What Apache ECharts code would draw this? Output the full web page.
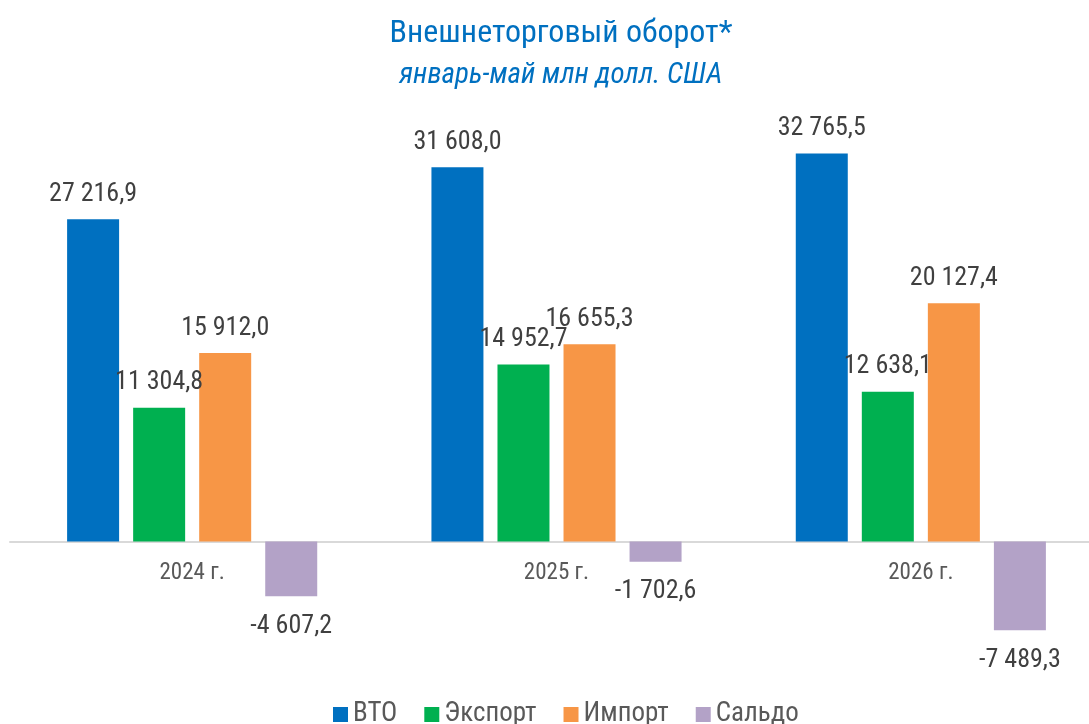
<!DOCTYPE html>
<html>
<head>
<meta charset="utf-8">
<script src="https://cdn.jsdelivr.net/npm/echarts@6/dist/echarts.min.js"></script>
<style>
	html, body { margin: 0; padding: 0; background: #fff; }
	#chart { width: 1089px; height: 724px; }
</style>
</head>
<body>
<div id="chart"></div>
<script>
const years = ["2024 г.", "2025 г.", "2026 г."]
const seriesNames = ["ВТО", "Экспорт", "Импорт", "Сальдо"]
const vto = [27216.9, 31608.0, 32765.5]
const exportVals = [11304.8, 14952.7, 12638.1]
const importVals = [15912.0, 16655.3, 20127.4]
const saldo = [-4607.2, -1702.6, -7489.3]
const colors = ["#0070C0", "#00B050", "#F79646", "#B3A2C7"]

const font = "'Roboto Condensed', Roboto, sans-serif"

const fmt = (v) => {
	let s = Math.abs(v).toFixed(1).split(".")
	let int = s[0].replace(/\B(?=(\d{3})+(?!\d))/g, " ")
	return (v < 0 ? "-" : "") + int + "," + s[1]
}

const makeSeries = (name, values, color) => {
	return {
		name: name,
		type: "bar",
		barWidth: 52,
		barGap: "27%",
		itemStyle: { color: color },
		label: {
			show: true,
			fontFamily: font,
			fontSize: 26,
			color: "#404040",
			formatter: (p) => fmt(p.value),
		},
		data: values.map((v) => ({
			value: v,
			label: { position: v < 0 ? "bottom" : "top", distance: v < 0 ? 17 : 12 },
		})),
	}
}

let chart = echarts.init(document.getElementById("chart"))
let option = {
	animation: false,
	title: {
		text: "Внешнеторговый оборот*",
		subtext: "январь-май млн долл. США",
		left: 556,
		textAlign: "center",
		top: 13,
		itemGap: 11,
		textStyle: {
			color: "#0070C0",
			fontFamily: font,
			fontWeight: "normal",
			fontSize: 32,
		},
		subtextStyle: {
			color: "#0070C0",
			fontFamily: font,
			fontStyle: "italic",
			fontSize: 29,
		},
	},
	legend: {
		top: 696,
		left: 328,
		itemWidth: 15,
		itemHeight: 15,
		itemGap: 27,
		icon: "rect",
		textStyle: {
			color: "#595959",
			fontFamily: font,
			fontSize: 27,
		},
		data: seriesNames,
	},
	grid: {
		left: 10,
		width: 1093,
		top: 127,
		height: 533,
		outerBoundsMode: "none",
	},
	xAxis: {
		type: "category",
		data: years,
		offset: -118,
		axisLine: { onZero: false, lineStyle: { color: "#D9D9D9", width: 2 } },
		axisTick: { show: false },
		axisLabel: {
			color: "#595959",
			fontFamily: font,
			fontSize: 23,
			margin: 20,
		},
	},
	yAxis: {
		type: "value",
		min: -10000,
		max: 35000,
		show: false,
		splitLine: { show: false },
	},
	series: [
		makeSeries(seriesNames[0], vto, colors[0]),
		makeSeries(seriesNames[1], exportVals, colors[1]),
		makeSeries(seriesNames[2], importVals, colors[2]),
		makeSeries(seriesNames[3], saldo, colors[3]),
	],
}
chart.setOption(option)
</script>
</body>
</html>
